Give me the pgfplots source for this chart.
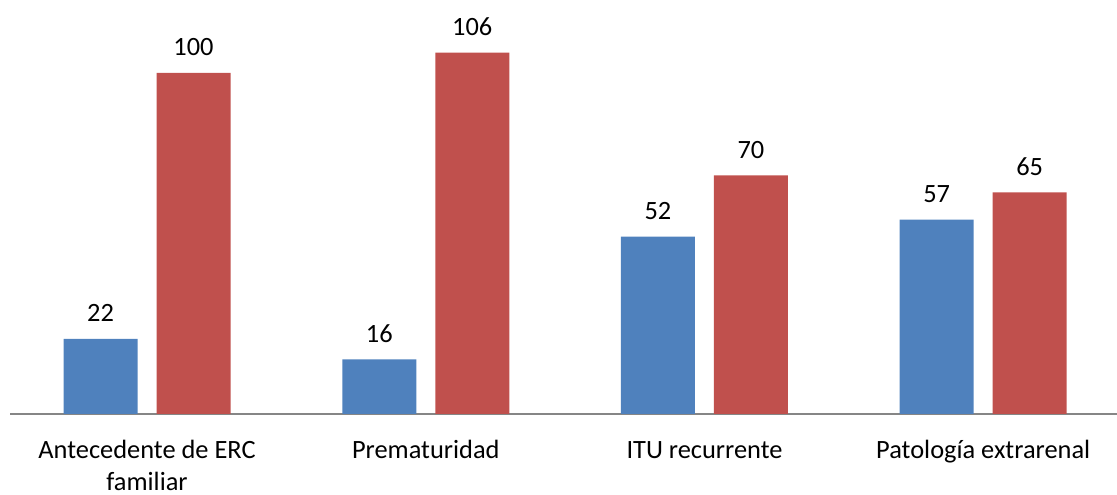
\documentclass[border=0pt]{standalone}
\usepackage{fontspec}
\setmainfont{Carlito}
\usepackage{pgfplots}
\pgfplotsset{compat=1.18}
\definecolor{cblue}{HTML}{4F81BD}
\definecolor{cred}{HTML}{C0504D}
\definecolor{cgray}{HTML}{868686}
\begin{document}
\begin{tikzpicture}
\begin{axis}[
  scale only axis,
  width=830.25pt, height=310.5pt,
  xmin=-0.4916, xmax=3.48, ymin=0, ymax=121.4,
  ybar=14.25pt, bar width=55.5pt,
  axis y line=none,
  axis x line=bottom,
  x axis line style={-, draw=cgray, line width=1.5pt},
  major tick length=0pt,
  xtick={0,1,2,3},
  xticklabels={{\strut Antecedente de ERC\\familiar},{\strut Prematuridad},{\strut ITU recurrente},{\strut Patología extrarenal}},
  xticklabel style={font=\fontsize{19.8pt}{24pt}\selectfont, align=center, anchor=north, yshift=-16.2pt, inner sep=0pt},
  nodes near coords,
  /pgf/number format/assume math mode=true,
  every node near coord/.append style={font=\fontsize{19.8pt}{24pt}\selectfont, anchor=base, yshift=12.75pt, inner sep=0pt, text=black},
  clip=false,
]
\addplot[fill=cblue, draw=none] coordinates {(0,22) (1,16) (2,52) (3,57)};
\addplot[fill=cred, draw=none] coordinates {(0,100) (1,106) (2,70) (3,65)};
\end{axis}
\pgfresetboundingbox
\path (-7.5pt,-60.75pt) rectangle (830.25pt,310.5pt);
\end{tikzpicture}
\end{document}
